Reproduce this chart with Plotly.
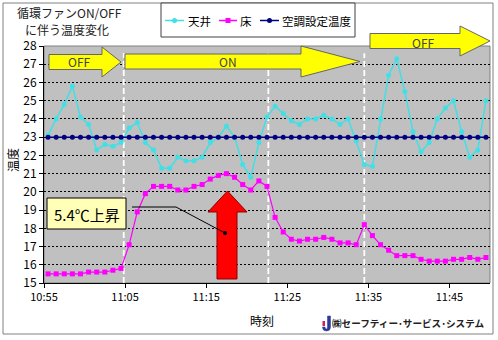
import pandas as pd
import plotly.graph_objects as go

# One reading per minute, taken on the half minute
times = pd.date_range("2000-01-01 10:55:30", periods=55, freq="min")

ceiling_temp = [23.1, 24.0, 24.8, 25.8, 24.1, 23.7, 22.3, 22.6, 22.5, 22.7,
                23.5, 23.8, 22.7, 22.3, 21.3, 21.3, 21.9, 21.7, 21.7, 21.9,
                22.7, 23.0, 23.6, 23.0, 21.5, 20.8, 22.7, 24.1, 24.7, 24.3,
                23.9, 23.7, 24.0, 24.0, 24.2, 24.0, 23.7, 24.0, 22.8, 21.5,
                21.4, 24.0, 26.4, 27.3, 25.5, 23.3, 22.2, 22.7, 24.0, 24.6,
                25.0, 23.3, 21.9, 22.3, 25.0]

floor_temp = [15.5, 15.5, 15.5, 15.5, 15.5, 15.6, 15.6, 15.6, 15.7, 15.8,
              17.1, 18.9, 19.9, 20.3, 20.3, 20.3, 20.1, 20.1, 20.3, 20.4,
              20.7, 20.9, 21.0, 20.8, 20.4, 20.1, 20.6, 20.3, 18.6, 17.8,
              17.4, 17.3, 17.4, 17.4, 17.5, 17.4, 17.2, 17.2, 17.1, 18.2,
              17.6, 17.1, 16.8, 16.5, 16.5, 16.5, 16.3, 16.2, 16.2, 16.2,
              16.3, 16.3, 16.4, 16.3, 16.4]

setpoint_temp = [23.0, 23.0, 23.0, 23.0, 23.0, 23.0, 23.0, 23.0, 23.0, 23.0,
                 23.0, 23.0, 23.0, 23.0, 23.0, 23.0, 23.0, 23.0, 23.0, 23.0,
                 23.0, 23.0, 23.0, 23.0, 23.0, 23.0, 23.0, 23.0, 23.0, 23.0,
                 23.0, 23.0, 23.0, 23.0, 23.0, 23.0, 23.0, 23.0, 23.0, 23.0,
                 23.0, 23.0, 23.0, 23.0, 23.0, 23.0, 23.0, 23.0, 23.0, 23.0,
                 23.0, 23.0, 23.0, 23.0, 23.0]

series_names = ["天井", "床", "空調設定温度"]
tick_labels = ["10:55", "11:05", "11:15", "11:25", "11:35", "11:45"]
axis_range = ["2000-01-01 10:55", "2000-01-01 11:50"]
fan_switch_times = ["2000-01-01 11:04:50", "2000-01-01 11:22:40", "2000-01-01 11:34:30"]
rise_label = "5.4℃上昇"

FONT = "Noto Sans CJK JP"
C_CEIL = "#3FE0E6"
C_FLOOR = "#FF00FF"
C_SET = "#000080"

# Pixel helpers for decorations placed relative to the page
W, H = 498, 340
ML, MR, MT, MB = 44, 8, 46, 57
PW, PH = W - ML - MR, H - MT - MB


def px(x):
    return (x - ML) / PW


def py(y):
    return (H - MB - y) / PH


def right_arrow(x0, xh, xt, ym, bh, hh):
    pts = [(x0, ym - bh), (xh, ym - bh), (xh, ym - hh), (xt, ym),
           (xh, ym + hh), (xh, ym + bh), (x0, ym + bh)]
    return "M" + " L".join(f"{px(a):.5f},{py(b):.5f}" for a, b in pts) + " Z"


def up_arrow(xl, xr, hl, hr, ybot, yhead, ytip):
    xt = (hl + hr) / 2
    pts = [(xl, ybot), (xl, yhead), (hl, yhead), (xt, ytip),
           (hr, yhead), (xr, yhead), (xr, ybot)]
    return "M" + " L".join(f"{px(a):.5f},{py(b):.5f}" for a, b in pts) + " Z"


fig = go.Figure()
fig.add_trace(go.Scatter(
    x=times, y=ceiling_temp, name=series_names[0], mode="lines+markers",
    line=dict(color=C_CEIL, width=1.5),
    marker=dict(symbol="circle", size=5, color=C_CEIL), showlegend=False))
fig.add_trace(go.Scatter(
    x=times, y=floor_temp, name=series_names[1], mode="lines+markers",
    line=dict(color=C_FLOOR, width=1.2),
    marker=dict(symbol="square", size=5, color=C_FLOOR), showlegend=False))
fig.add_trace(go.Scatter(
    x=times, y=setpoint_temp, name=series_names[2], mode="lines+markers",
    line=dict(color=C_SET, width=1.5),
    marker=dict(symbol="circle", size=5, color=C_SET), showlegend=False))

shapes = []
# outer chart frame
shapes.append(dict(type="rect", xref="paper", yref="paper",
                   x0=px(3), x1=px(493), y0=py(334), y1=py(3),
                   line=dict(color="#808080", width=1), layer="below"))
# plot area frame
shapes.append(dict(type="rect", xref="paper", yref="paper",
                   x0=0, x1=1, y0=0, y1=1,
                   line=dict(color="#808080", width=1), layer="below"))
# fan switch markers
for t in fan_switch_times:
    shapes.append(dict(type="line", xref="x", yref="y", x0=t, x1=t,
                       y0=15, y1=27.6,
                       line=dict(color="white", width=1.8, dash="6px,3px"),
                       layer="between"))
# ON / OFF arrows
for path in (right_arrow(49, 102, 121, 62, 7.5, 15),
             right_arrow(125, 301, 360, 61.5, 7.5, 15.5),
             right_arrow(370, 460, 490, 41, 7.5, 15)):
    shapes.append(dict(type="path", xref="paper", yref="paper", path=path,
                       fillcolor="#FFFF00", line=dict(color="#666666", width=1),
                       layer="above"))
# red rise arrow
shapes.append(dict(type="path", xref="paper", yref="paper",
                   path=up_arrow(217, 237, 208, 247, 279, 212, 191),
                   fillcolor="#FF0000", line=dict(color="#8B0000", width=1),
                   layer="above"))
# callout box and leader line
shapes.append(dict(type="rect", xref="paper", yref="paper",
                   x0=px(47), x1=px(126), y0=py(229), y1=py(198),
                   fillcolor="#FFFFB8", line=dict(color="black", width=1),
                   layer="above"))
shapes.append(dict(type="path", xref="paper", yref="paper",
                   path=f"M{px(132)},{py(207)} L{px(176)},{py(207)} L{px(225)},{py(233)}",
                   line=dict(color="black", width=1), layer="above"))
shapes.append(dict(type="circle", xref="paper", yref="paper",
                   x0=px(223), x1=px(227), y0=py(235), y1=py(231),
                   fillcolor="black", line=dict(color="black", width=0),
                   layer="above"))
# legend box
shapes.append(dict(type="rect", xref="paper", yref="paper",
                   x0=px(161), x1=px(355), y0=py(37), y1=py(3),
                   fillcolor="white", line=dict(color="#404040", width=1),
                   layer="above"))
leg_y = 20.5
leg_items = [(165, 184, C_CEIL, "circle"), (219, 237, C_FLOOR, "square"),
             (260, 279, C_SET, "circle")]
for x0, x1, col, sym in leg_items:
    shapes.append(dict(type="line", xref="paper", yref="paper",
                       x0=px(x0), x1=px(x1), y0=py(leg_y), y1=py(leg_y),
                       line=dict(color=col, width=1.5), layer="above"))
    xm = (x0 + x1) / 2
    shapes.append(dict(type="circle" if sym == "circle" else "rect",
                       xref="paper", yref="paper",
                       x0=px(xm - 2.5), x1=px(xm + 2.5),
                       y0=py(leg_y + 2.5), y1=py(leg_y - 2.5),
                       fillcolor=col, line=dict(color=col, width=0),
                       layer="above"))
# company mark
shapes.append(dict(type="path", xref="paper", yref="paper",
                   path=(f"M{px(327.5)},{py(316)} L{px(330.5)},{py(316)} "
                         f"L{px(330.5)},{py(327)} Q{px(330.5)},{py(331)} {px(326.5)},{py(331)} "
                         f"Q{px(322.5)},{py(331)} {px(322.5)},{py(327)} L{px(325)},{py(327)} "
                         f"Q{px(325)},{py(329)} {px(326.5)},{py(329)} Q{px(327.5)},{py(329)} {px(327.5)},{py(327)} Z"),
                   fillcolor="#2B3A9A", line=dict(color="#2B3A9A", width=0.5),
                   layer="above"))
shapes.append(dict(type="rect", xref="paper", yref="paper",
                   x0=px(322.5), x1=px(325), y0=py(326), y1=py(321),
                   fillcolor="#D0205A", line=dict(width=0), layer="above"))

annotations = []


def text(x, y, s, size=12, color="black", xanchor="center", angle=0):
    annotations.append(dict(xref="paper", yref="paper", x=px(x), y=py(y),
                            text=s, showarrow=False, xanchor=xanchor,
                            yanchor="middle", textangle=angle, borderpad=0,
                            font=dict(family=FONT, size=size, color=color)))


text(16, 13, "循環ファンON/OFF", size=12, color="#222222", xanchor="left")
text(24, 30, "に伴う温度変化", size=12, color="#222222", xanchor="left")
text(187, leg_y + 0.5, series_names[0], size=11.5, xanchor="left")
text(239, leg_y + 0.5, series_names[1], size=11.5, xanchor="left")
text(281, leg_y + 0.5, series_names[2], size=11.5, xanchor="left")
text(79, 62, "OFF", size=12, color="#444444")
text(228, 62, "ON", size=12, color="#444444")
text(423, 42, "OFF", size=12, color="#444444")
text(86.5, 214, rise_label, size=15)
text(12, 160, "温度", size=12, angle=-90)
text(262, 320, "時刻", size=12)
text(331, 323, "<b>㈱セーフティー･サービス･システム</b>", size=9.6,
     color="#222222", xanchor="left")

fig.update_layout(
    width=W, height=H,
    margin=dict(l=ML, r=MR, t=MT, b=MB),
    paper_bgcolor="white", plot_bgcolor="#C0C0C0",
    font=dict(family=FONT, size=11, color="black"),
    shapes=shapes, annotations=annotations,
    showlegend=False,
)
fig.update_xaxes(
    type="date", range=axis_range,
    tickvals=[pd.Timestamp("2000-01-01 " + s) for s in tick_labels],
    ticktext=tick_labels,
    showgrid=False, zeroline=False,
    showline=True, linecolor="black", linewidth=1,
    ticks="outside", ticklen=4, tickcolor="black",
    tickfont=dict(family=FONT, size=11),
)
fig.update_yaxes(
    range=[15, 28], dtick=1, tick0=15,
    showgrid=True, gridcolor="black", gridwidth=1, griddash="2px,2px",
    zeroline=False,
    showline=True, linecolor="black", linewidth=1,
    ticks="outside", ticklen=4, tickcolor="black",
    tickfont=dict(family=FONT, size=12),
)

fig.write_html("out.html")
